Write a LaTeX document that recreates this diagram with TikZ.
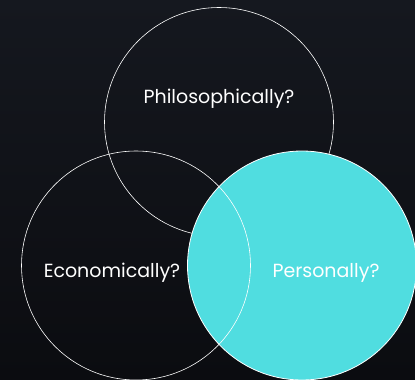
\documentclass[tikz,border=0pt]{standalone}
\usepackage{fontspec}
\setmainfont{Poppins}
\definecolor{bgtop}{HTML}{15181F}
\definecolor{bgbot}{HTML}{0B0C10}
\definecolor{venncyan}{HTML}{50DDE0}
\tikzset{venntext/.style={text=white, font=\fontsize{19}{22}\selectfont}}

\begin{document}
\begin{tikzpicture}[x=1pt, y=1pt]
			%%%%% START %%%%%
			\shade[top color=bgtop, bottom color=bgbot] (0, 0) rectangle (415, 380);
			\useasboundingbox (0, 0) rectangle (415, 380);
			
			\draw[white, line width=0.6pt] (219, 258) circle (114.5);
			\draw[white, line width=0.8pt, fill=venncyan] (302, 114.5) circle (114.5);
			\draw[white, line width=0.6pt] (136, 114.5) circle (114.5);
			
			\node[venntext] (philo) at (219, 281) {Philosophically?};
			\node[venntext] (econ) at (112, 107) {Economically?};
			\node[venntext] (pers) at (326, 107) {Personally?};
			%%%%% END %%%%%
		\end{tikzpicture}
\end{document}
